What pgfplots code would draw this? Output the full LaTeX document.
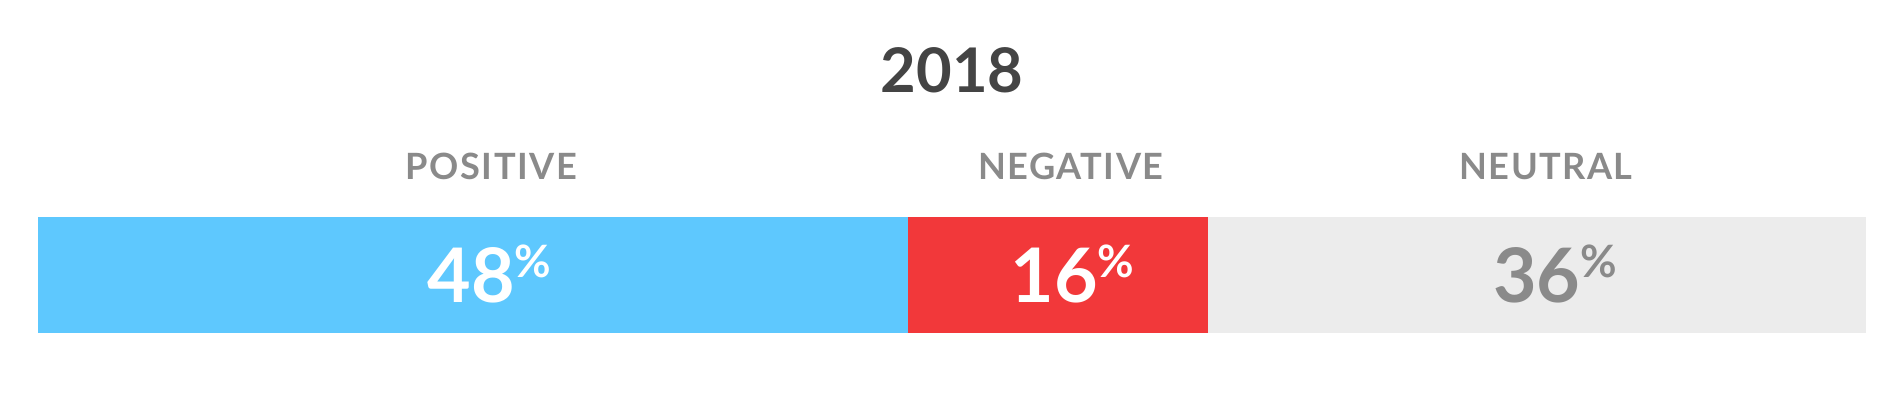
\documentclass[border=0pt]{standalone}
\usepackage{pgfplots}
\pgfplotsset{compat=1.18}
\usepackage{fontspec}
\setmainfont{Lato}
\definecolor{cblue}{HTML}{5EC8FE}
\definecolor{cred}{HTML}{F2383A}
\definecolor{cgrey}{HTML}{ECECEC}
\definecolor{ctext}{HTML}{8A8A8A}
\definecolor{ctitle}{HTML}{444444}
\newcommand{\cat}[1]{{\fontsize{10.3}{12}\selectfont\bfseries\addfontfeatures{LetterSpace=4}#1}}
\newcommand{\pct}[1]{{\fontsize{21.4}{24}\selectfont\bfseries #1}{\fontsize{12.7}{14}\selectfont\bfseries\raisebox{2.5mm}{\%}}}
\begin{document}
\begin{tikzpicture}
\useasboundingbox (0,0) rectangle (19cm,4cm);
\begin{axis}[
  at={(0.38cm,0cm)}, anchor=south west,
  scale only axis, width=18.28cm, height=4cm,
  hide axis, clip=false,
  xmin=0, xmax=100, ymin=0, ymax=400, y dir=reverse,
  xbar stacked, bar width=116,
]
\addplot[fill=cblue, draw=none] coordinates {(47.6,275)};
\addplot[fill=cred, draw=none] coordinates {(16.4,275)};
\addplot[fill=cgrey, draw=none] coordinates {(36.0,275)};
\coordinate (t) at (axis cs:50,92);
\coordinate (c1) at (axis cs:24.8,179);
\coordinate (c2) at (axis cs:56.5,179);
\coordinate (c3) at (axis cs:82.5,179);
\coordinate (p1) at (axis cs:24.7,302);
\coordinate (p2) at (axis cs:56.6,302);
\coordinate (p3) at (axis cs:83.0,302);
\end{axis}
\node[anchor=base, text=ctitle, font=\fontsize{17.5}{20}\selectfont\bfseries, inner sep=0] at (t) {2018};
\node[anchor=base, text=ctext, inner sep=0] at (c1) {\cat{POSITIVE}};
\node[anchor=base, text=ctext, inner sep=0] at (c2) {\cat{NEGATIVE}};
\node[anchor=base, text=ctext, inner sep=0] at (c3) {\cat{NEUTRAL}};
\node[anchor=base, text=white, inner sep=0] at (p1) {\pct{48}};
\node[anchor=base, text=white, inner sep=0] at (p2) {\pct{16}};
\node[anchor=base, text=ctext, inner sep=0] at (p3) {\pct{36}};
\end{tikzpicture}
\end{document}
